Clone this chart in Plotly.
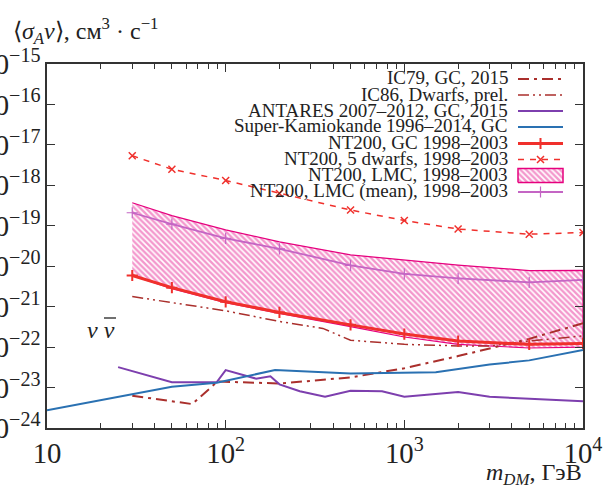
import plotly.graph_objects as go

# ---------------- data ----------------
m_ic79 = [30, 65, 90, 200, 500, 1000, 2000, 5000, 10000]
sv_ic79 = [6.3e-24, 3.9e-24, 1.41e-23, 1.26e-23, 1.78e-23, 3.0e-23, 6.0e-23, 1.6e-22, 3.9e-22]

m_ic86 = [30, 100, 200, 350, 500, 1000, 2000, 3000, 5000, 10000]
sv_ic86 = [1.78e-21, 7.9e-22, 4.3e-22, 2.9e-22, 1.48e-22, 1.17e-22, 1.07e-22, 1.07e-22, 1.41e-22, 1.9e-22]

m_antares = [25, 50, 89, 100, 148, 178, 200, 260, 360, 500, 750, 1000, 2000, 3000, 10000]
sv_antares = [3.2e-23, 1.35e-23, 1.35e-23, 2.7e-23, 1.66e-23, 1.9e-23, 1.2e-23, 8.1e-24,
              5.9e-24, 8.3e-24, 8.1e-24, 5.9e-24, 7.8e-24, 5.9e-24, 4.6e-24]

m_superk = [10, 20, 50, 89, 189, 500, 1500, 3000, 5000, 10000]
sv_superk = [2.75e-24, 4.9e-24, 1.05e-23, 1.32e-23, 2.7e-23, 2.24e-23, 2.4e-23, 3.7e-23, 4.7e-23, 8.5e-23]

m_nt = [30, 50, 100, 200, 500, 1000, 2000, 5000, 10000]
sv_nt_gc = [5.9e-21, 2.95e-21, 1.32e-21, 7.2e-22, 3.55e-22, 2.1e-22, 1.41e-22, 1.17e-22, 1.23e-22]
sv_nt_dwarfs = [5.4e-18, 2.5e-18, 1.32e-18, 6.3e-19, 2.45e-19, 1.35e-19, 8.3e-20, 6.2e-20, 6.8e-20]
sv_lmc_upper = [3.7e-19, 1.78e-19, 7.9e-20, 4.0e-20, 1.9e-20, 1.41e-20, 1.07e-20, 7.8e-21, 7.9e-21]
sv_lmc_lower = [5.9e-21, 2.8e-21, 1.26e-21, 6.8e-22, 3.2e-22, 1.78e-22, 1.17e-22, 9.5e-23, 1.0e-22]
sv_lmc_mean = [2.1e-19, 1.1e-19, 4.9e-20, 2.7e-20, 1.05e-20, 6.5e-21, 5.0e-21, 4.0e-21, 4.6e-21]

legend_labels = [
    "IC79, GC, 2015",
    "IC86, Dwarfs, prel.",
    "ANTARES 2007–2012, GC, 2015",
    "Super-Kamiokande 1996–2014, GC",
    "NT200, GC 1998–2003",
    "NT200, 5 dwarfs, 1998–2003",
    "NT200, LMC, 1998–2003",
    "NT200, LMC (mean), 1998–2003",
]

# ---------------- styles ----------------
SERIF = "Liberation Serif"
C_IC = "#aa2f2c"
C_ANT = "#7d3fae"
C_SK = "#2a71b2"
C_NT = "#f0302c"
C_LMC = "#e6007e"
C_MEAN = "#c465c4"
HATCH = dict(shape="\\", fgcolor="#e8309a", bgcolor="white", size=4, solidity=0.6)
DASH_IC79 = "11px,5px,3px,5px"
DASH_IC86 = "11px,4px,2px,4px,2px,4px"
DASH_DW = "6px,6px"

W, H = 611, 493
L, R, T, B = 47, 28, 64, 65
PW, PH = W - L - R, H - T - B

fig = go.Figure()

# LMC hatched band
fig.add_trace(go.Scatter(
    x=m_nt + m_nt[::-1], y=sv_lmc_upper + sv_lmc_lower[::-1],
    mode="lines", fill="toself", fillcolor="rgba(0,0,0,0)", fillpattern=HATCH,
    line=dict(color=C_LMC, width=1.2), hoverinfo="skip", showlegend=False))

fig.add_trace(go.Scatter(x=m_ic79, y=sv_ic79, mode="lines",
                         line=dict(color=C_IC, width=2, dash=DASH_IC79), showlegend=False))
fig.add_trace(go.Scatter(x=m_ic86, y=sv_ic86, mode="lines",
                         line=dict(color=C_IC, width=1.5, dash=DASH_IC86), showlegend=False))
fig.add_trace(go.Scatter(x=m_antares, y=sv_antares, mode="lines",
                         line=dict(color=C_ANT, width=2), showlegend=False))
fig.add_trace(go.Scatter(x=m_superk, y=sv_superk, mode="lines",
                         line=dict(color=C_SK, width=2), showlegend=False))
fig.add_trace(go.Scatter(x=m_nt, y=sv_lmc_mean, mode="lines+markers",
                         line=dict(color=C_MEAN, width=1.8),
                         marker=dict(symbol="cross-thin", size=8, line=dict(color=C_MEAN, width=1.2)),
                         showlegend=False))
fig.add_trace(go.Scatter(x=m_nt, y=sv_nt_dwarfs, mode="lines+markers",
                         line=dict(color=C_NT, width=1.5, dash=DASH_DW),
                         marker=dict(symbol="x-thin", size=7, line=dict(color=C_NT, width=1.5)),
                         showlegend=False))
fig.add_trace(go.Scatter(x=m_nt, y=sv_nt_gc, mode="lines+markers",
                         line=dict(color=C_NT, width=3),
                         marker=dict(symbol="cross-thin", size=8, line=dict(color=C_NT, width=2)),
                         showlegend=False))

# ---------------- hand-made legend (text on the left, samples on the right) ----------------
row_px = [79, 95, 111, 127, 143.5, 159.5, 175.5, 192]
def fy(py):
    return (H - B - py) / PH
def fx(px):
    return (px - L) / PW

sx0, sx1 = fx(518), fx(563)
styles = [
    dict(line=dict(color=C_IC, width=2, dash=DASH_IC79)),
    dict(line=dict(color=C_IC, width=1.5, dash=DASH_IC86)),
    dict(line=dict(color=C_ANT, width=2)),
    dict(line=dict(color=C_SK, width=2)),
    dict(line=dict(color=C_NT, width=3)),
    dict(line=dict(color=C_NT, width=1.5, dash=DASH_DW)),
    None,
    dict(line=dict(color=C_MEAN, width=1.8)),
]
for i, (lab, st) in enumerate(zip(legend_labels, styles)):
    y = fy(row_px[i])
    if st is not None:
        fig.add_trace(go.Scatter(x=[sx0, sx1], y=[y, y], mode="lines", xaxis="x2", yaxis="y2",
                                 showlegend=False, hoverinfo="skip", **st))
    fig.add_annotation(text=lab, xref="paper", yref="paper", x=fx(510), y=fy(row_px[i] - 1),
                       xanchor="right", yanchor="middle", showarrow=False,
                       font=dict(family=SERIF, size=19, color="#222"))
# markers in legend samples
xm = (sx0 + sx1) / 2
fig.add_trace(go.Scatter(x=[xm], y=[fy(row_px[4])], mode="markers", xaxis="x2", yaxis="y2",
                         marker=dict(symbol="cross-thin", size=8, line=dict(color=C_NT, width=2)),
                         showlegend=False, hoverinfo="skip"))
fig.add_trace(go.Scatter(x=[xm], y=[fy(row_px[5])], mode="markers", xaxis="x2", yaxis="y2",
                         marker=dict(symbol="x-thin", size=7, line=dict(color=C_NT, width=1.5)),
                         showlegend=False, hoverinfo="skip"))
fig.add_trace(go.Scatter(x=[xm], y=[fy(row_px[7])], mode="markers", xaxis="x2", yaxis="y2",
                         marker=dict(symbol="cross-thin", size=8, line=dict(color=C_MEAN, width=1.2)),
                         showlegend=False, hoverinfo="skip"))
yb0, yb1 = fy(row_px[6] + 7), fy(row_px[6] - 7)
fig.add_trace(go.Scatter(x=[sx0, sx1, sx1, sx0, sx0], y=[yb0, yb0, yb1, yb1, yb0], mode="lines",
                         xaxis="x2", yaxis="y2", fill="toself", fillcolor="rgba(0,0,0,0)",
                         fillpattern=HATCH, line=dict(color=C_LMC, width=1.5),
                         showlegend=False, hoverinfo="skip"))

# ---------------- annotations ----------------
fig.add_annotation(text="⟨<i>σ</i><sub><i>A</i></sub><i>v</i>⟩, см<sup>3</sup> · с<sup>−1</sup>",
                   xref="paper", yref="paper", x=fx(11), y=fy(31), xanchor="left", yanchor="middle",
                   showarrow=False, font=dict(family=SERIF, size=24, color="#222"))
fig.add_annotation(text="<i>m</i><sub><i>DM</i></sub>, ГэВ",
                   xref="paper", yref="paper", x=fx(584), y=fy(474), xanchor="right", yanchor="middle",
                   showarrow=False, font=dict(family=SERIF, size=24, color="#222"))
fig.add_annotation(text="<i>ν ν</i>",
                   xref="paper", yref="paper", x=fx(101), y=fy(330), xanchor="center", yanchor="middle",
                   showarrow=False, font=dict(family=SERIF, size=24, color="#222"))
# bar over the second ν
fig.add_shape(type="line", xref="paper", yref="paper", x0=fx(104), x1=fx(116), y0=fy(318), y1=fy(318),
              line=dict(color="#222", width=1.3))

axis_common = dict(showline=True, linecolor="#333", linewidth=1.8, mirror="allticks",
                   ticks="inside", tickcolor="#333", showgrid=False, zeroline=False,
                   exponentformat="power", tickfont=dict(family=SERIF, size=23, color="#222"))

fig.update_layout(
    width=W, height=H,
    margin=dict(l=L, r=R, t=T, b=B, autoexpand=False),
    paper_bgcolor="white", plot_bgcolor="white",
    showlegend=False,
    xaxis=dict(type="log", range=[1, 4], dtick=1, ticklen=8, tickwidth=1.2,
               minor=dict(ticks="inside", ticklen=5, dtick="D1", tickcolor="#333"),
               automargin=False, **axis_common),
    yaxis=dict(type="log", range=[-24, -15], dtick=1, ticklen=8, tickwidth=1.2,
               automargin=False, **axis_common),
    xaxis2=dict(overlaying="x", range=[0, 1], visible=False, fixedrange=True),
    yaxis2=dict(overlaying="y", range=[0, 1], visible=False, fixedrange=True),
)

fig.write_html("out.html")
